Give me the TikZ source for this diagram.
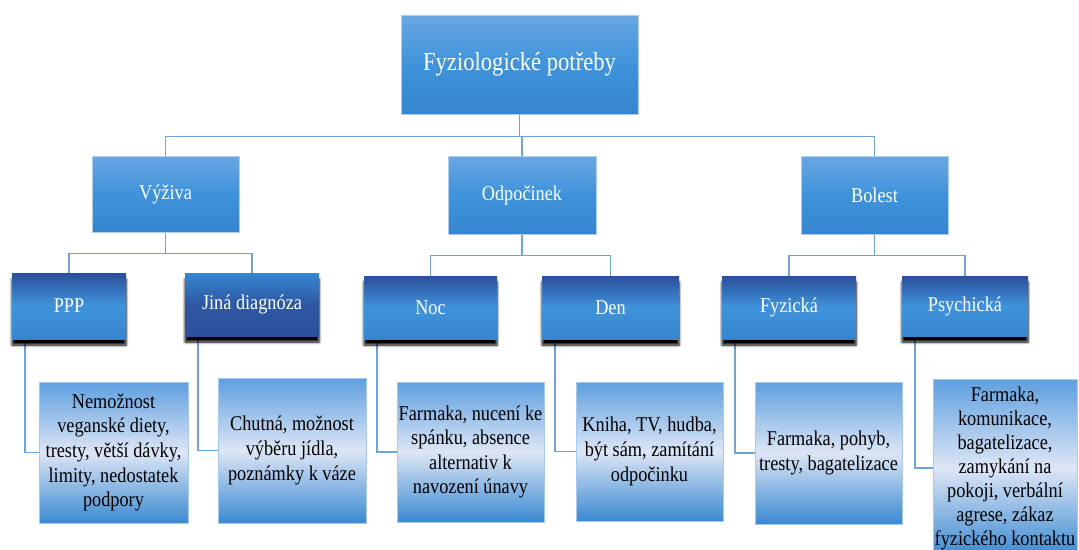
\documentclass[tikz,border=0pt]{standalone}
\usepackage{fontspec}
\setmainfont{Liberation Serif}[FakeStretch=0.87]
\usetikzlibrary{shadows.blur,backgrounds}
\definecolor{lineblue}{HTML}{6FA3D8}
\definecolor{toplight}{HTML}{6AA6E2}
\definecolor{midblue}{HTML}{3F93DB}
\definecolor{botblue}{HTML}{3586CF}
\definecolor{darkblue}{HTML}{2D4F9B}
\definecolor{paleblue}{HTML}{DDE6F5}
\definecolor{leaftop}{HTML}{5E9FE0}
\definecolor{leafbot}{HTML}{3A89D1}
\def\rootfont{\fontsize{26}{30}\selectfont}
\def\boxfont{\fontsize{21}{24.6}\selectfont}
\def\tightfont{\fontsize{21}{24}\selectfont}
\def\conn{\draw[conn]}

\begin{document}
\begin{tikzpicture}[x=1pt,y=-1pt,
    box/.style={rectangle,inner sep=0pt,align=center,text=white,font=\boxfont},
    head/.style={box,draw=toplight!55!white,line width=0.8pt,
        top color=toplight,bottom color=botblue,middle color=midblue},
    sub/.style={box,top color=darkblue,bottom color=botblue,middle color=midblue,
        blur shadow={shadow xshift=0pt,shadow yshift=-6pt,shadow blur radius=2.5pt,shadow opacity=100}},
    subinv/.style={sub,top color=botblue,bottom color=darkblue,middle color=darkblue!85!botblue},
    leaf/.style={box,text=black,draw=leaftop!55!white,line width=0.8pt,
        top color=leaftop,bottom color=leafbot,middle color=paleblue},
    conn/.style={draw=lineblue,line width=1.4pt}]
  \useasboundingbox (0,0) rectangle (1079,549);
  % top
  \node[head,font=\rootfont,minimum width=237pt,minimum height=99pt] (root) at (519.5,64.5) {Fyziologické potřeby};
  % second row
  \node[head,minimum width=147pt,minimum height=76pt] (vyz) at (165.5,194) {Výživa};
  \node[head,minimum width=148pt,minimum height=78pt] (odp) at (522,195) {Odpočinek};
  \node[head,minimum width=147pt,minimum height=78pt] (bol) at (874.5,195) {Bolest};
  % third row
  \node[sub,minimum width=114pt,minimum height=66pt] (ppp) at (69,306) {PPP};
  \node[subinv,minimum width=134pt,minimum height=63pt] (jina) at (252,304.5) {Jiná diagnóza};
  \node[sub,minimum width=133pt,minimum height=63pt] (noc) at (430.5,307.5) {Noc};
  \node[sub,minimum width=137pt,minimum height=63pt] (den) at (610.5,307.5) {Den};
  \node[sub,minimum width=134pt,minimum height=63pt] (fyz) at (789,307.5) {Fyzická};
  \node[sub,minimum width=126pt,minimum height=60pt] (psy) at (965,306) {Psychická};
  % leaves
  \node[leaf,minimum width=149pt,minimum height=141pt] (lppp) at (113.5,452.5)
    {Nemožnost\\veganské diety,\\tresty, větší dávky,\\limity, nedostatek\\podpory};
  \node[leaf,minimum width=148pt,minimum height=145pt] (ljina) at (292,450.5)
    {Chutná, možnost\\výběru jídla,\\poznámky k váze};
  \node[leaf,minimum width=147pt,minimum height=140pt] (lnoc) at (470.5,452)
    {Farmaka, nucení ke\\spánku, absence\\alternativ k\\navození únavy};
  \node[leaf,minimum width=147pt,minimum height=139pt] (lden) at (649.5,451.5)
    {Kniha, TV, hudba,\\být sám, zamítání\\odpočinku};
  \node[leaf,minimum width=147pt,minimum height=142pt] (lfyz) at (828.5,453)
    {Farmaka, pohyb,\\tresty, bagatelizace};
  \node[leaf,font=\tightfont,minimum width=144pt,minimum height=178pt] (lpsy) at (1005,468)
    {Farmaka,\\komunikace,\\bagatelizace,\\zamykání na\\pokoji, verbální\\agrese, zákaz\\fyzického kontaktu};
  \begin{scope}[on background layer]
    \foreach \c in {vyz,odp,bol}
      \conn (root.south) -- ++(0,22) -| (\c.north);
    \foreach \p/\a/\b in {vyz/ppp/jina,odp/noc/den,bol/fyz/psy}
      \conn (\p.south) -- ++(0,21) -| (\a.north) (\p.south) ++(0,21) -| (\b.north);
    \foreach \s in {ppp,jina,noc,den,fyz,psy}
      \conn (\s.south west) ++(13,0) |- (l\s.west);
  \end{scope}
\end{tikzpicture}
\end{document}
